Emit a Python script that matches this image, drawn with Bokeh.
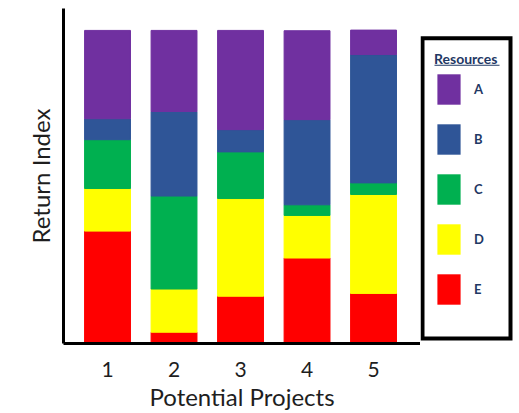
from bokeh.plotting import figure
from bokeh.layouts import row
from bokeh.models import (ColumnDataSource, Range1d, FixedTicker, Legend, LegendItem,
                          Title, BoxAnnotation)
from bokeh.embed import file_html
from bokeh.resources import INLINE

# Share of the return index contributed by each resource, per project (percent)
projects = [1, 2, 3, 4, 5]
project_labels = ["1", "2", "3", "4", "5"]
resources = ["A", "B", "C", "D", "E"]
res_a = [28.2, 25.9, 31.7, 28.4, 7.8]
res_b = [6.7, 27.0, 7.1, 27.2, 41.0]
res_c = [15.6, 29.7, 14.9, 3.4, 3.7]
res_d = [13.6, 13.8, 31.2, 13.6, 31.6]
res_e = [35.9, 3.6, 15.1, 27.3, 16.0]
res_colors = ["#7030A0", "#2F5597", "#00B050", "#FFFF00", "#FF0000"]

FONT = "Lato"
NAVY = "#1F3864"
TEXT = "#1e1e1e"

src = ColumnDataSource(dict(x=projects, A=res_a, B=res_b, C=res_c, D=res_d, E=res_e))

p = figure(width=420, height=413,
           x_range=Range1d(0.338, 5.706), y_range=Range1d(0, 107),
           output_backend="svg", toolbar_location=None,
           min_border_left=63, min_border_right=0,
           min_border_top=8, min_border_bottom=68)
p.outline_line_color = None
p.grid.visible = False

# stacked from the bottom: E, D, C, B, A
stack_order = resources[::-1]
stack_colors = res_colors[::-1]
p.vbar_stack(stack_order, x="x", width=0.69, color=stack_colors, source=src)

# axes
p.yaxis.ticker = FixedTicker(ticks=[])
p.yaxis.axis_line_width = 3
p.yaxis.axis_line_color = "black"
p.yaxis.major_tick_line_color = None
p.yaxis.minor_tick_line_color = None

# vertical axis title, sitting a little below the middle of the axis
ytitle = Title(text="Return Index", align="center", offset=-36, standoff=18,
               text_font=FONT, text_font_size="24px", text_font_style="normal",
               text_color=TEXT)
p.add_layout(ytitle, "left")

p.xaxis.ticker = FixedTicker(ticks=projects)
p.xaxis.major_label_overrides = {k: v for k, v in zip(projects, project_labels)}
p.xaxis.axis_label = "Potential Projects"
p.xaxis.axis_line_width = 3
p.xaxis.axis_line_color = "black"
p.xaxis.major_tick_line_color = None
p.xaxis.minor_tick_line_color = None
p.xaxis.major_label_standoff = 12
p.xaxis.major_label_text_font = FONT
p.xaxis.major_label_text_font_size = "21px"
p.xaxis.major_label_text_color = TEXT
p.xaxis.axis_label_standoff = 2
p.xaxis.axis_label_text_font = FONT
p.xaxis.axis_label_text_font_size = "24px"
p.xaxis.axis_label_text_font_style = "normal"
p.xaxis.axis_label_text_color = TEXT

# key panel beside the bars; its ranges run one unit per pixel
k = figure(width=99, height=413, x_range=Range1d(0, 99), y_range=Range1d(0, 337),
           x_axis_type=None, y_axis_type=None,
           output_backend="svg", toolbar_location=None, min_border=0)
k.outline_line_color = None
k.grid.visible = False
swatches = [k.vbar(x=[0], top=[0], width=0, fill_color=c, line_alpha=0)
            for c in res_colors]

items = [LegendItem(label=r, renderers=[s]) for r, s in zip(resources, swatches)]
legend = Legend(items=items, location=(2, 23))
legend.title = "Resources"
legend.title_text_font = FONT
legend.title_text_font_size = "14px"
legend.title_text_font_style = "bold"
legend.title_text_color = NAVY
legend.title_standoff = 3
legend.label_text_font = FONT
legend.label_text_font_size = "13px"
legend.label_text_font_style = "bold"
legend.label_text_color = NAVY
legend.glyph_width = 29
legend.glyph_height = 38
legend.label_standoff = 11
legend.spacing = 12
legend.padding = 12
legend.margin = 0
legend.border_line_alpha = 0
legend.background_fill_alpha = 0
k.add_layout(legend)

# heavy black frame round the key, and the underline of its heading
k.add_layout(BoxAnnotation(left=2, right=90, bottom=5, top=307,
                           fill_alpha=0, line_color="black", line_alpha=1,
                           line_width=4, line_join="miter"))
k.add_layout(BoxAnnotation(left=14, right=79, bottom=279.5, top=280.5,
                           fill_color=NAVY, fill_alpha=1, line_alpha=0))

layout = row(p, k, spacing=0)
open("out.html", "w").write(file_html(layout, INLINE))
